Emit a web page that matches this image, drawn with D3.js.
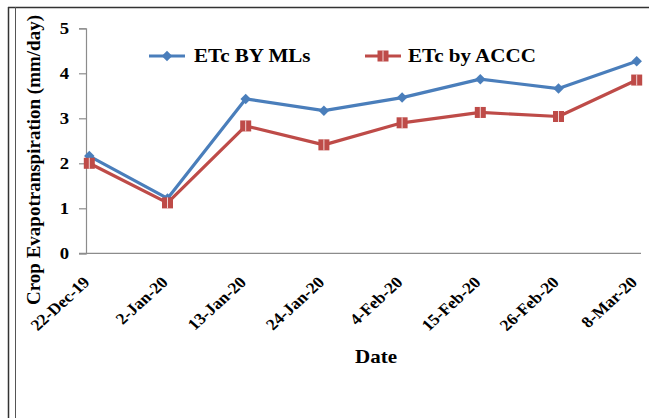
<!DOCTYPE html>
<html>
<head>
<meta charset="utf-8">
<script src="https://cdn.jsdelivr.net/npm/d3@7/dist/d3.min.js"></script>
<style>
  html, body { margin: 0; padding: 0; background: #fff; }
  svg { display: block; }
  text { font-family: "Liberation Serif", "Times New Roman", serif; font-weight: bold; fill: #000; }
</style>
</head>
<body>
<svg id="chart" width="649" height="418"></svg>
<script>
// Sampling dates along the x axis
const dates = ["22-Dec-19", "2-Jan-20", "13-Jan-20", "24-Jan-20", "4-Feb-20", "15-Feb-20", "26-Feb-20", "8-Mar-20"];
// Crop evapotranspiration (mm/day) from the machine-learning models
const etcML = [2.16, 1.22, 3.43, 3.17, 3.46, 3.87, 3.66, 4.27];
// Crop evapotranspiration (mm/day) from the ACCC method
const etcACCC = [2.00, 1.12, 2.83, 2.41, 2.90, 3.13, 3.04, 3.85];
const yTicks = [0, 1, 2, 3, 4, 5];
const seriesNames = ["ETc BY MLs", "ETc by ACCC"];

const svg = d3.select("#chart");
const blue = "#4A7EBB", red = "#BE4B48", axisGrey = "#8c8c8c";
const SX = 1.17;           // slightly wide glyphs
const FONT = "Liberation Serif";

// Frame lines around the figure
svg.append("line").attr("x1", 8).attr("x2", 649).attr("y1", 7.5).attr("y2", 7.5)
  .attr("stroke", "#333").attr("stroke-width", 1.5);
svg.append("line").attr("x1", 8.5).attr("x2", 8.5).attr("y1", 7).attr("y2", 418)
  .attr("stroke", "#333").attr("stroke-width", 1.5);
svg.append("line").attr("x1", 15.5).attr("x2", 15.5).attr("y1", 7).attr("y2", 418)
  .attr("stroke", "#555").attr("stroke-width", 1);

const x = d3.scalePoint().domain(dates).range([89.3, 636.7]);
const y = d3.scaleLinear().domain([0, 5]).range([253.3, 28.3]);

// Y axis
const yAxis = svg.append("g").attr("transform", "translate(86,0)")
  .call(d3.axisLeft(y).tickValues(yTicks).tickFormat(d3.format("d")).tickSize(7).tickPadding(0));
yAxis.select(".domain").attr("stroke", axisGrey).attr("stroke-width", 1.2);
yAxis.selectAll(".tick line").attr("stroke", axisGrey).attr("stroke-width", 1.2);
yAxis.selectAll(".tick text")
  .style("font-size", "16px").style("font-family", FONT).style("font-weight", "bold")
  .attr("fill", "#000").attr("x", 0).attr("dy", "0.34em")
  .attr("transform", `translate(-17,0) scale(${SX},1)`);

// X axis
const xAxis = svg.append("g").attr("transform", `translate(0,${y(0)})`)
  .call(d3.axisBottom(x).tickSize(0).tickPadding(0));
xAxis.select(".domain").attr("d", "M79,0H641").attr("stroke", axisGrey).attr("stroke-width", 1.2);
xAxis.selectAll(".tick text")
  .style("font-size", "16px").style("font-family", FONT).style("font-weight", "bold")
  .attr("fill", "#000")
  .attr("text-anchor", "end")
  .attr("y", 0).attr("dy", "0")
  .attr("transform", "translate(1,30) scale(1.1,1) rotate(-45)");

// Axis titles
svg.append("text").attr("transform", "translate(40,160) rotate(-90)")
  .attr("text-anchor", "middle").style("font-size", "19px").text("Crop Evapotranspiration (mm/day)");
svg.append("text").attr("transform", `translate(376,363) scale(${SX},1)`)
  .attr("text-anchor", "middle").style("font-size", "18px").text("Date");

const line = d3.line().x((d, i) => x(dates[i])).y(d => y(d));

function drawSeries(values, color, shape) {
  svg.append("path").datum(values).attr("d", line)
    .attr("fill", "none").attr("stroke", color).attr("stroke-width", 3.2).attr("stroke-linejoin", "round");
  const g = svg.append("g");
  values.forEach((v, i) => drawMarker(g, x(dates[i]), y(v), color, shape));
}

function drawMarker(g, cx, cy, color, shape) {
  if (shape === "diamond") {
    g.append("path").attr("d", d3.symbol(d3.symbolDiamond2, 70)())
      .attr("transform", `translate(${cx},${cy})`).attr("fill", color);
  } else {
    g.append("rect").attr("x", cx - 5.5).attr("y", cy - 5.5).attr("width", 11).attr("height", 11).attr("fill", color);
    g.append("line").attr("x1", cx).attr("x2", cx).attr("y1", cy - 5.5).attr("y2", cy + 5.5)
      .attr("stroke", "#f3d6d5").attr("stroke-width", 1);
  }
}

drawSeries(etcML, blue, "diamond");
drawSeries(etcACCC, red, "square");

// Legend
const legend = [
  { name: seriesNames[0], color: blue, shape: "diamond", x0: 149, tx: 194 },
  { name: seriesNames[1], color: red, shape: "square", x0: 365, tx: 408 }
];
legend.forEach(l => {
  const ly = 56;
  svg.append("line").attr("x1", l.x0).attr("x2", l.x0 + 36).attr("y1", ly).attr("y2", ly)
    .attr("stroke", l.color).attr("stroke-width", 3.2);
  drawMarker(svg, l.x0 + 18, ly, l.color, l.shape);
  svg.append("text").attr("transform", `translate(${l.tx},${ly + 6}) scale(${SX},1)`)
    .style("font-size", "18px").text(l.name);
});
</script>
</body>
</html>
